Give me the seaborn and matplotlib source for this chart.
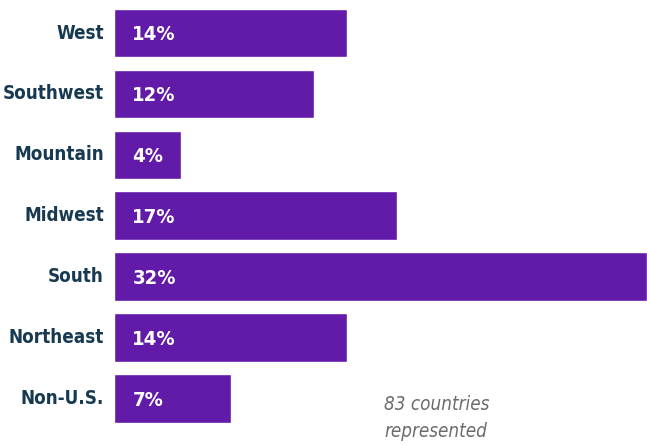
import matplotlib
matplotlib.use("Agg")
import matplotlib.pyplot as plt
import seaborn as sns
import pandas as pd

regions = ["West", "Southwest", "Mountain", "Midwest", "South", "Northeast", "Non-U.S."]
shares = [14, 12, 4, 17, 32, 14, 7]
labels = ["14%", "12%", "4%", "17%", "32%", "14%", "7%"]
note = "83 countries\nrepresented"

sns.set_theme(style="white")
plt.rcParams['font.family'] = ['DejaVu Sans']

df = pd.DataFrame({"region": regions, "share": shares})

fig = plt.figure(figsize=(6.47, 4.45), dpi=100)
ax = fig.add_axes([114/647, 0, 1 - 114/647, 1])
sns.barplot(data=df, x="share", y="region", order=regions, color="#621aa8",
            saturation=1, width=0.8, ax=ax)
ax.set_xlim(0, 32)
ax.set_ylim(6.76, -0.542)
for s in ax.spines.values():
    s.set_visible(False)
ax.set_xticks([])
ax.set_yticks([])
ax.set_xlabel("")
ax.set_ylabel("")

for i, (r, lab) in enumerate(zip(regions, labels)):
    ax.text(-0.6, i, r, ha="right", va="center", fontsize=13.5, fontweight="bold",
            fontstretch="condensed", color="#173a52", clip_on=False)
    ax.text(1.1, i + 0.03, lab, ha="left", va="center", fontsize=14.5, fontweight="bold",
            fontstretch="condensed", color="white")

fig.text(384/647, 1 - 418/445, note, ha="left", va="center", fontsize=13.5,
         style="italic", fontstretch="condensed", color="#6b6b6b", linespacing=1.5)

fig.savefig("out.png", dpi=100)
